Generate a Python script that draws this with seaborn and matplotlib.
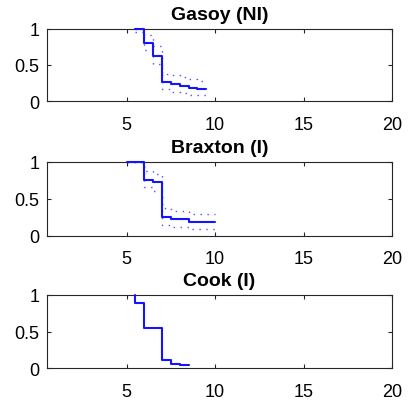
import matplotlib
matplotlib.use("Agg")
import matplotlib.pyplot as plt
import seaborn as sns
import pandas as pd

sns.set_style("white")
plt.rcParams['font.family'] = ['Liberation Sans', 'DejaVu Sans']

titles = ["Gasoy (NI)", "Braxton (I)", "Cook (I)"]

gasoy_t = [5.5, 6.0, 6.5, 7.0, 7.5, 8.0, 8.5, 9.0, 9.5]
gasoy_s = [1.0, 0.80, 0.62, 0.26, 0.245, 0.21, 0.19, 0.17, 0.17]
gasoy_up = [1.0, 0.91, 0.76, 0.38, 0.36, 0.33, 0.31, 0.28, 0.28]
gasoy_lo = [0.95, 0.70, 0.51, 0.17, 0.13, 0.11, 0.09, 0.08, 0.08]

braxton_t = [5.0, 6.0, 6.5, 7.0, 7.5, 8.5, 10.0]
braxton_s = [1.0, 0.76, 0.73, 0.25, 0.225, 0.19, 0.19]
braxton_up = [1.0, 0.87, 0.83, 0.37, 0.33, 0.29, 0.29]
braxton_lo = [1.0, 0.66, 0.61, 0.15, 0.12, 0.09, 0.09]

cook_t = [5.5, 5.5, 6.0, 7.0, 7.5, 8.0, 8.5]
cook_s = [1.0, 0.89, 0.55, 0.11, 0.065, 0.04, 0.04]

panels = [
    (gasoy_t, gasoy_s, gasoy_up, gasoy_lo),
    (braxton_t, braxton_s, braxton_up, braxton_lo),
    (cook_t, cook_s, None, None),
]

xticks = [5, 10, 15, 20]
yticks = [0, 0.5, 1]
ytick_labels = ["0", "0.5", "1"]

fig = plt.figure(figsize=(4.08, 4.06), dpi=100)
rects = [
    [0.115, 0.748, 0.846, 0.179],
    [0.115, 0.417, 0.846, 0.182],
    [0.115, 0.0904, 0.846, 0.181],
]
blue = "#1414ff"
for rect, title, (t, s, up, lo) in zip(rects, titles, panels):
    ax = fig.add_axes(rect)
    df = pd.DataFrame({"t": t, "s": s})
    sns.lineplot(data=df, x="t", y="s", ax=ax, estimator=None, sort=False,
                 drawstyle="steps-post", color=blue, lw=1.5,
                 clip_on=False, zorder=5)
    if up is not None:
        dfu = pd.DataFrame({"t": t, "u": up, "l": lo})
        sns.lineplot(data=dfu, x="t", y="u", ax=ax, estimator=None, sort=False,
                     drawstyle="steps-post", color=blue, lw=1.0,
                     linestyle=(0, (1, 4)), alpha=0.75)
        sns.lineplot(data=dfu, x="t", y="l", ax=ax, estimator=None, sort=False,
                     drawstyle="steps-post", color=blue, lw=1.0,
                     linestyle=(0, (1, 4)), alpha=0.75)
    ax.set_xlim(0.5, 20)
    ax.set_ylim(0, 1)
    ax.set_xticks(xticks)
    ax.set_yticks(yticks)
    ax.set_yticklabels(ytick_labels)
    ax.set_xlabel("")
    ax.set_ylabel("")
    ax.set_title(title, fontsize=14, fontweight="bold", pad=7, color="black")
    ax.tick_params(direction="in", length=3, width=0.8, top=True, right=True,
                   bottom=True, left=True, labelsize=13, colors="#262626",
                   labelcolor="black")
    ax.tick_params(axis="x", pad=10.5)
    ax.tick_params(axis="y", pad=5.5)
    for sp in ax.spines.values():
        sp.set_color("#262626")
        sp.set_linewidth(0.8)
        sp.set_visible(True)
        sp.set_zorder(2)

fig.savefig("out.png", dpi=100, facecolor="white")
